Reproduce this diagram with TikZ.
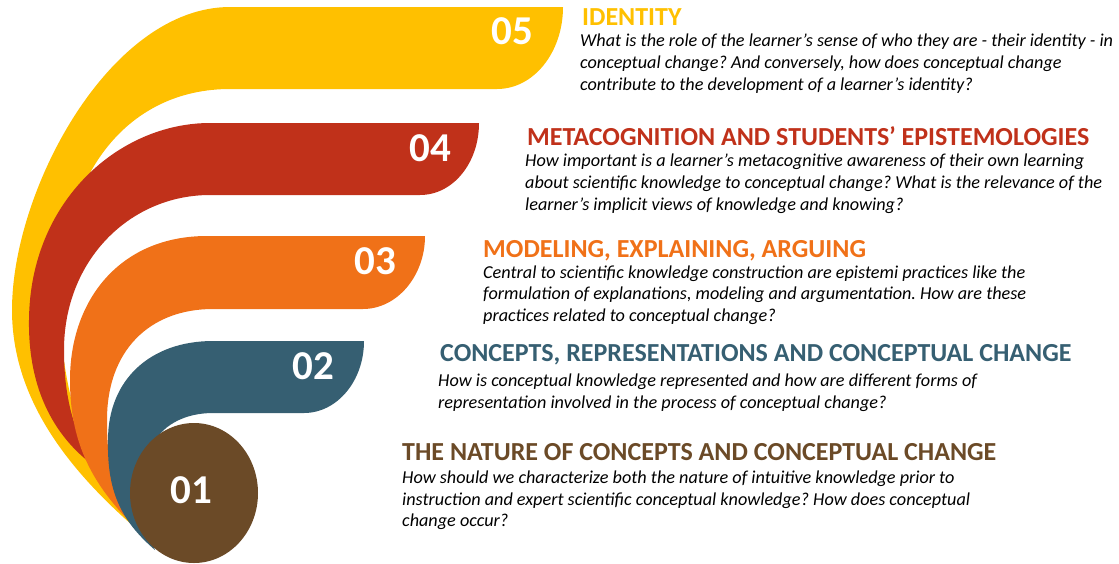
\documentclass[tikz,border=0pt]{standalone}
\usepackage{fontspec}
\setmainfont{Carlito}
\usepackage{tikz}
\usetikzlibrary{positioning}
\frenchspacing

\definecolor{bandyellow}{HTML}{FFC000}
\definecolor{bandred}{HTML}{C0311A}
\definecolor{bandorange}{HTML}{F07118}
\definecolor{bandblue}{HTML}{365F72}
\definecolor{bandbrown}{HTML}{6B4A27}

\begin{document}
\begin{tikzpicture}[x=1pt, y=-1pt,
    num/.style={text=white, inner sep=0pt, font=\fontsize{41}{41}\selectfont\bfseries},
    head/.style={anchor=base west, inner sep=0pt, font=\fontsize{26}{26}\selectfont\bfseries},
    body/.style={anchor=base west, inner sep=0pt, align=left, font=\fontsize{18.2}{21.7}\selectfont\itshape}]

    \useasboundingbox (0,0) rectangle (1119,563);

    % Bands, back to front
    \fill[bandyellow] (230,7) -- (563,7) .. controls (563,52) and (534,89) .. (497,89)
        -- (230,89) .. controls (130,89) and (62,170) .. (60,300)
        .. controls (60,400) and (90,470) .. (132,525)
        .. controls (70,470) and (12,400) .. (12,310)
        .. controls (12,190) and (110,7) .. (230,7) -- cycle;
    \fill[bandred] (210,123) -- (479,123) .. controls (479,163) and (453,195) .. (420,195)
        -- (210,195) .. controls (130,195) and (64,260) .. (64,350)
        .. controls (64,400) and (75,440) .. (100,470)
        .. controls (55,440) and (28,390) .. (29,320)
        .. controls (30,200) and (120,123) .. (210,123) -- cycle;
    \fill[bandorange] (207,236) -- (425,236) .. controls (425,276) and (397,309) .. (363,309)
        -- (213,309) .. controls (150,309) and (107,350) .. (107,420)
        .. controls (107,460) and (112,490) .. (128,520)
        .. controls (90,480) and (70,440) .. (70,380)
        .. controls (70,300) and (120,236) .. (207,236) -- cycle;
    \fill[bandblue] (213,341) -- (364,341) .. controls (364,381) and (337,413) .. (304,413)
        -- (213,413) .. controls (185,413) and (160,425) .. (150,450)
        .. controls (142,475) and (142,520) .. (155,550)
        .. controls (120,520) and (107,490) .. (108,440)
        .. controls (108,380) and (150,341) .. (213,341) -- cycle;
    \fill[bandbrown] (194,493) ellipse [x radius=64pt, y radius=70pt];

    % Numbers
    \node[num] (n05) at (512,31) {05};
    \node[num] (n04) at (430,148) {04};
    \node[num] (n03) at (375,261) {03};
    \node[num] (n02) at (313,366) {02};
    \node[num] (n01) at (191,490) {01};

    % Headings and questions (questions sit on the baseline of their last line)
    \node[head, text=bandyellow] (h05) at (582,25) {IDENTITY};
    \node[body] (q05) at (580,90) {What is the role of the learner’s sense of who they are - their identity - in\\
        conceptual change? And conversely, how does conceptual change\\
        contribute to the development of a learner’s identity?};

    \node[head, text=bandred] (h04) at (527,145) {METACOGNITION AND STUDENTS’ EPISTEMOLOGIES};
    \node[body] (q04) at (525,210) {How important is a learner’s metacognitive awareness of their own learning\\
        about scientific knowledge to conceptual change? What is the relevance of the\\
        learner’s implicit views of knowledge and knowing?};

    \node[head, text=bandorange] (h03) at (483,257) {MODELING, EXPLAINING, ARGUING};
    \node[body] (q03) at (483,321.5) {Central to scientific knowledge construction are epistemi practices like the\\
        formulation of explanations, modeling and argumentation. How are these\\
        practices related to conceptual change?};

    \node[head, text=bandblue] (h02) at (440,361) {CONCEPTS, REPRESENTATIONS AND CONCEPTUAL CHANGE};
    \node[body] (q02) at (438,408.5) {How is conceptual knowledge represented and how are different forms of\\
        representation involved in the process of conceptual change?};

    \node[head, text=bandbrown] (h01) at (402,460) {THE NATURE OF CONCEPTS AND CONCEPTUAL CHANGE};
    \node[body] (q01) at (402,526.7) {How should we characterize both the nature of intuitive knowledge prior to\\
        instruction and expert scientific conceptual knowledge? How does conceptual\\
        change occur?};
\end{tikzpicture}
\end{document}
